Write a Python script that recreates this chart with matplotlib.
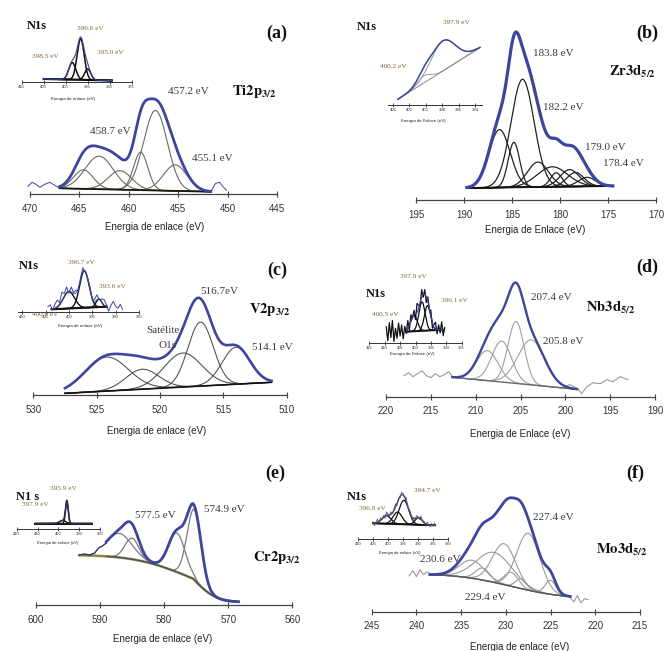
import math
import numpy as np
import matplotlib
matplotlib.use("Agg")
import matplotlib.pyplot as plt

# ---------------------------------------------------------------- data ----
# (a) Ti 2p3/2 fit components: centre (eV), height (a.u.), sigma (eV)
ti_centers = [464.6, 463.0, 460.9, 458.8, 457.3, 455.3]
ti_heights = [19, 33, 19, 38, 80, 26]
ti_sigmas = [1.0, 1.43, 1.2, 0.72, 1.2, 1.2]
ti_range = (467.0, 451.7)
ti_bg = (6.0, 2.6)
ti_ticks = [470, 465, 460, 455, 450, 445]
ti_raw_left_e = [470.2, 469.8, 469.4, 469.0, 468.5, 468.0, 467.5, 467.0]
ti_raw_left_i = [8, 12, 10, 7, 10, 12, 9, 6]
ti_raw_right_e = [451.7, 451.2, 450.8, 450.5, 450.1]
ti_raw_right_i = [3, 11, 12, 8, 4]
ti_n_centers = [398.5, 396.6, 395.0]
ti_n_heights = [17, 41, 11]
ti_n_sigmas = [0.8, 0.8, 0.7]
ti_n_range = (405.0, 389.5)
ti_n_bg = (3.0, 1.5)
ti_n_ticks = [410, 405, 400, 395, 390, 385]

# (b) Zr 3d5/2
zr_centers = [186.3, 184.8, 183.9, 182.3, 180.8, 180.4, 179.0, 178.4, 177.2]
zr_heights = [58, 45, 108, 25, 20, 14, 17, 14, 9]
zr_sigmas = [1.1, 0.6, 1.2, 1.1, 1.6, 0.6, 1.0, 0.9, 0.9]
zr_range = (189.7, 174.5)
zr_bg = (12.0, 14.0)
zr_ticks = [195, 190, 185, 180, 175, 170]
zr_n_centers = [400.2, 397.9]
zr_n_heights = [7, 30]
zr_n_sigmas = [0.8, 1.5]
zr_n_range = (403.4, 393.4)
zr_n_bg = (5.7, 57.3)
zr_n_ticks = [404, 402, 400, 398, 396, 394]

# (c) V 2p3/2
v_centers = [524.2, 521.4, 518.2, 516.8, 514.0]
v_heights = [34, 20, 34, 64, 37]
v_sigmas = [1.7, 1.3, 1.5, 1.0, 1.1]
v_range = (527.5, 511.2)
v_bg = (1.7, 12.7)
v_ticks = [530, 525, 520, 515, 510]
v_n_centers = [400.0, 396.7, 393.6]
v_n_heights = [17, 37, 8]
v_n_sigmas = [1.2, 1.0, 0.6]
v_n_range = (403.7, 391.9)
v_n_bg = (2.7, 5.3)
v_n_ticks = [410, 405, 400, 395, 390, 385]
v_n_raw_resid = [0, 2, -1, 4, 7, 2, 9, 3, 6, -2, 5, 1, 3, -3, 2, 4, -1,
                 1, 3, -2, 2, 5, -1, 3, 6, 2, -2, 4, 8, 3, 1, 5, 0]

# (d) Nb 3d5/2
nb_centers = [208.7, 207.1, 205.5, 203.8]
nb_heights = [30, 41, 62, 45]
nb_sigmas = [1.2, 1.1, 0.9, 1.5]
nb_range = (212.6, 198.7)
nb_bg = (19.4, 7.4)
nb_ticks = [220, 215, 210, 205, 200, 195, 190]
nb_raw_left_e = [218.0, 217.5, 217.0, 216.5, 216.0, 215.5, 215.0, 214.5,
                 214.0, 213.5, 213.0, 212.6]
nb_raw_left_i = [21, 24, 20, 23, 26, 21, 19, 23, 20, 22, 25, 20]
nb_raw_right_e = [200.2, 199.5, 198.6, 198.2, 197.6, 196.9, 196.1, 195.4,
                  194.7, 193.9, 193.0]
nb_raw_right_i = [10, 12, 8, 3, 10, 14, 13, 17, 15, 20, 17]
nb_n_centers = [400.5, 397.9, 396.1]
nb_n_heights = [16, 29, 25]
nb_n_sigmas = [1.1, 1.0, 1.0]
nb_n_range = (403.0, 391.0)
nb_n_bg = (11.0, 13.0)
nb_n_ticks = [415, 410, 405, 400, 395, 390, 385]
nb_n_raw_range = (409.5, 390.5)
nb_n_raw_resid = [6, -8, 10, -5, 12, -9, 4, -6, 9, -4, 7, -7, 5, -3, 8, -5,
                  6, -2, 4, -6, 9, 3, -4, 7, -3, 5, -6, 4, -2, 6, -5, 3, 7,
                  -4, 5, -3, 8, -6, 2]

# (e) Cr 2p3/2
cr_centers = [587.0, 585.0, 578.0, 575.3]
cr_heights = [24, 21, 39, 70]
cr_sigmas = [2.0, 1.1, 1.3, 1.1]
cr_range = (589.0, 568.4)
cr_bg_range = (593.2, 568.4)
cr_bg = dict(lo=3.0, hi=50.0, centre=575.5, w_lo=4.0, w_hi=10.0)
cr_ticks = [600, 590, 580, 570, 560]
cr_raw_e = [593.2, 592.4, 591.6, 590.8, 590.2, 589.6, 589.0]
cr_raw_i = [50, 51, 50, 52, 57, 59, 62]
cr_n_centers = [397.9, 395.9]
cr_n_heights = [3, 22]
cr_n_sigmas = [1.5, 0.65]
cr_n_range = (411.0, 384.0)
cr_n_bg = (5.5, 5.5)
cr_n_ticks = [420, 410, 400, 390, 380]

# (f) Mo 3d5/2
mo_centers = [233.8, 232.6, 231.3, 230.2, 229.4, 228.3, 227.5, 225.0]
mo_heights = [18, 12, 30, 41, 14, 10, 57, 14]
mo_sigmas = [1.4, 0.8, 2.0, 1.3, 0.8, 0.6, 1.3, 0.6]
mo_range = (238.5, 222.8)
mo_bg = dict(lo=13.4, hi=37.7, centre=229.5, w_lo=6.5, w_hi=6.5)
mo_ticks = [245, 240, 235, 230, 225, 220, 215]
mo_raw_left_e = [240.8, 240.4, 240.0, 239.6, 239.2, 238.8, 238.5]
mo_raw_left_i = [36, 41, 35, 42, 37, 40, 38]
mo_raw_right_e = [222.8, 222.4, 222.0, 221.6, 221.2, 220.8]
mo_raw_right_i = [14, 10, 16, 9, 13, 12]
mo_n_centers = [400.5, 396.8, 394.7, 389.8]
mo_n_heights = [8, 12, 24, 7]
mo_n_sigmas = [1.5, 1.5, 1.6, 1.2]
mo_n_range = (405.0, 384.3)
mo_n_bg = (16.0, 14.0)
mo_n_ticks = [410, 405, 400, 395, 390, 385, 380]
mo_n_raw_resid = [2, -3, 1, 4, -2, 3, -1, 2, -3, 4, 1, -2, 3, -1, 2, 4, -3,
                  1, -2, 3, 2, -1, 4, -2, 1, 3, -3, 2, -1, 3, 1, -2, 4, -1,
                  2, -3, 3, 1, -2, 2, -1, 3]

# -------------------------------------------------------------- styling ----
W, H = 668, 651
plt.rcParams["mathtext.fontset"] = "stix"
SERIF = "Liberation Serif"
SANS = "Liberation Sans"
BLUE = "#3b469c"
TXT = "#3a3a3a"
BROWN = "#7a6538"

fig = plt.figure(figsize=(W / 100, H / 100), dpi=100)
_erf = np.vectorize(math.erf)


def px_axes(x0, x1, y_axis, y_top):
    ax = fig.add_axes([x0 / W, 1 - y_axis / H, (x1 - x0) / W, (y_axis - y_top) / H])
    ax.patch.set_alpha(0)
    for s in ("left", "right", "top"):
        ax.spines[s].set_visible(False)
    ax.set_yticks([])
    ax.set_ylim(0, y_axis - y_top)
    return ax


def main_axes(x0, x1, y_axis, y_top, ticks):
    ax = px_axes(x0, x1, y_axis, y_top)
    ax.set_xlim(ticks[0], ticks[-1])
    ax.set_xticks(ticks)
    ax.set_xticklabels([str(t) for t in ticks], fontfamily=SANS, fontsize=7,
                       color="#333333")
    ax.tick_params(axis="x", direction="inout", length=5, width=0.8, pad=4.5,
                   color="#444444")
    ax.spines["bottom"].set_color("#444444")
    ax.spines["bottom"].set_linewidth(0.9)
    return ax


def inset_axes(x0, x1, y_axis, y_top, xlim, ticks):
    ax = px_axes(x0, x1, y_axis, y_top)
    ax.set_xlim(*xlim)
    ax.set_xticks(ticks)
    ax.set_xticklabels([str(t) for t in ticks], fontfamily=SANS, fontsize=3.0,
                       color="#333333")
    ax.tick_params(axis="x", direction="inout", length=2.2, width=0.6, pad=1.2,
                   color="#333333")
    ax.spines["bottom"].set_color("#333333")
    ax.spines["bottom"].set_linewidth(0.7)
    return ax


def gauss(e, c, h, s):
    return h * np.exp(-0.5 * ((e - c) / s) ** 2)


def linear_bg(e, rng, levels):
    e_hi, e_lo = rng
    i_hi, i_lo = levels
    return i_lo + (i_hi - i_lo) * (e - e_lo) / (e_hi - e_lo)


def step_bg(e, lo, hi, centre, w_lo, w_hi):
    w = np.where(e < centre, w_lo, w_hi)
    return lo + (hi - lo) * 0.5 * (1 + _erf((e - centre) / w))


def draw_fit(ax, e, bg, centers, heights, sigmas, comp_kw, env_kw, bg_kw=None):
    total = bg.copy()
    for c, h, s in zip(centers, heights, sigmas):
        g = gauss(e, c, h, s)
        ax.plot(e, bg + g, clip_on=False, **comp_kw)
        total = total + g
    if bg_kw is not None:
        ax.plot(e, bg, clip_on=False, **bg_kw)
    ax.plot(e, total, clip_on=False, **env_kw)
    return total


def text(x, y, s, size, color=TXT, family=SERIF, weight="normal", **kw):
    fig.text(x / W, 1 - y / H, s, fontsize=size, color=color, family=family,
             weight=weight, ha="center", va="center", **kw)


def peak_label(x, y, s):
    text(x, y, s, 8)


def small_label(x, y, s):
    text(x, y, s, 5.2, color=BROWN)


def axis_title(x, y, s, size=7):
    text(x, y, s, size, color="#222222", family=SANS)


# ------------------------------------------------------------- panel (a) ----
ax = main_axes(30, 277, 194.3, 60, ti_ticks)
e = np.linspace(*ti_range, 400)
bg = linear_bg(e, ti_range, ti_bg)
ax.plot(ti_raw_left_e, ti_raw_left_i, color=BLUE, lw=0.7, clip_on=False)
ax.plot(ti_raw_right_e, ti_raw_right_i, color=BLUE, lw=0.7, clip_on=False)
draw_fit(ax, e, bg, ti_centers, ti_heights, ti_sigmas,
         dict(color="#6a6a6a", lw=0.8), dict(color=BLUE, lw=2.0),
         dict(color="#1a1a10", lw=1.3))

ax = inset_axes(21.7, 131.7, 82, 30, (410, 385), ti_n_ticks)
e = np.linspace(*ti_n_range, 300)
bg = linear_bg(e, ti_n_range, ti_n_bg)
draw_fit(ax, e, bg, ti_n_centers, ti_n_heights, ti_n_sigmas,
         dict(color="#111111", lw=1.1), dict(color=BLUE, lw=0.8),
         dict(color="#111111", lw=1.5))

text(277, 33, "(a)", 13, color="#111111", weight="bold")
text(254, 92, r"$\mathbf{Ti2p}_{\mathbf{3/2}}$", 10.5, color="#111111")
peak_label(188, 91, "457.2 eV")
peak_label(110, 131, "458.7 eV")
peak_label(212, 159, "455.1 eV")
text(37, 26, "N1s", 9, color="#111111", weight="bold")
small_label(90, 28, "396.6 eV")
small_label(45, 57, "398.5 eV")
small_label(110, 52, "395.0 eV")
axis_title(73, 99, "Energia de enlace (eV)", 3.2)
axis_title(155, 227, "Energia de enlace (eV)")

# ------------------------------------------------------------- panel (b) ----
ax = main_axes(416, 656, 200, 30, zr_ticks)
e = np.linspace(*zr_range, 400)
bg = linear_bg(e, zr_range, zr_bg)
draw_fit(ax, e, bg, zr_centers, zr_heights, zr_sigmas,
         dict(color="#222222", lw=0.9), dict(color=BLUE, lw=2.3),
         dict(color="#111111", lw=1.3))

ax = inset_axes(388, 481.5, 105, 35, (404.6, 393.2), zr_n_ticks)
e = np.linspace(*zr_n_range, 300)
bg = linear_bg(e, zr_n_range, zr_n_bg)
draw_fit(ax, e, bg, zr_n_centers, zr_n_heights, zr_n_sigmas,
         dict(color="#9a9a9a", lw=0.7), dict(color=BLUE, lw=1.1),
         dict(color="#8a8a8a", lw=0.7))

text(647, 33, "(b)", 13, color="#111111", weight="bold")
text(632, 72, r"$\mathbf{Zr3d}_{\mathbf{5/2}}$", 10.5, color="#111111")
peak_label(553, 53, "183.8 eV")
peak_label(563, 107, "182.2 eV")
peak_label(605, 147, "179.0 eV")
peak_label(623, 164, "178.4 eV")
text(367, 27, "N1s", 9, color="#111111", weight="bold")
small_label(456, 23, "397.9 eV")
small_label(393, 66, "400.2 eV")
axis_title(423, 121, "Energia de Enlace (eV)", 3.2)
axis_title(535, 230, "Energia de Enlace (eV)")

# ------------------------------------------------------------- panel (c) ----
ax = main_axes(33.3, 286.7, 395, 260, v_ticks)
e = np.linspace(*v_range, 400)
bg = linear_bg(e, v_range, v_bg)
draw_fit(ax, e, bg, v_centers, v_heights, v_sigmas,
         dict(color="#555555", lw=0.8), dict(color=BLUE, lw=1.9),
         dict(color="#111111", lw=1.2))

ax = inset_axes(17.5, 139, 312, 255, (411, 385), v_n_ticks)
e = np.linspace(*v_n_range, 300)
bg = linear_bg(e, v_n_range, v_n_bg)
env = draw_fit(ax, e, bg, v_n_centers, v_n_heights, v_n_sigmas,
               dict(color="#111111", lw=1.0), dict(color=BLUE, lw=0.6),
               dict(color="#111111", lw=1.5))
e_raw = np.linspace(404.5, 388.5, len(v_n_raw_resid))
raw = np.interp(e_raw, e[::-1], env[::-1], left=v_n_bg[0], right=v_n_bg[1])
ax.plot(e_raw, raw + np.array(v_n_raw_resid), color=BLUE, lw=0.7, clip_on=False)

text(277, 270, "(c)", 13, color="#111111", weight="bold")
text(270, 310, r"$\mathbf{V2p}_{\mathbf{3/2}}$", 10.5, color="#111111")
peak_label(219, 292, "516.7eV")
peak_label(163, 331, "Satélite")
peak_label(168, 346, "O1s")
peak_label(272, 347, "514.1 eV")
text(29, 266, "N1s", 9, color="#111111", weight="bold")
small_label(81, 263, "396.7 eV")
small_label(112, 286, "393.6 eV")
small_label(45, 314, "400.0 eV")
axis_title(80, 326, "Energia de enlace (eV)", 3.2)
axis_title(157, 431, "Energia de enlace (eV)")

# ------------------------------------------------------------- panel (d) ----
ax = main_axes(386, 655, 396.7, 260, nb_ticks)
ax.plot(nb_raw_left_e, nb_raw_left_i, color="#9a9a9a", lw=0.8, clip_on=False)
ax.plot(nb_raw_right_e, nb_raw_right_i, color="#9a9a9a", lw=0.8, clip_on=False)
e = np.linspace(*nb_range, 400)
bg = linear_bg(e, nb_range, nb_bg)
draw_fit(ax, e, bg, nb_centers, nb_heights, nb_sigmas,
         dict(color="#a0a0a0", lw=0.8), dict(color=BLUE, lw=1.7),
         dict(color="#6a6a6a", lw=1.0))

ax = inset_axes(369.3, 461.7, 342.7, 275, (415, 385), nb_n_ticks)
e = np.linspace(*nb_n_range, 300)
bg = linear_bg(e, nb_n_range, nb_n_bg)
e_raw = np.linspace(*nb_n_raw_range, len(nb_n_raw_resid))
model_raw = linear_bg(e_raw, nb_n_range, nb_n_bg)
for c, h, s in zip(nb_n_centers, nb_n_heights, nb_n_sigmas):
    model_raw = model_raw + gauss(e_raw, c, h, s)
ax.plot(e_raw, model_raw + np.array(nb_n_raw_resid), color="#111111", lw=0.9,
        clip_on=False)
draw_fit(ax, e, bg, nb_n_centers, nb_n_heights, nb_n_sigmas,
         dict(color="#111111", lw=0.9), dict(color=BLUE, lw=0.9),
         dict(color="#111111", lw=1.4))

text(647, 267, "(d)", 13, color="#111111", weight="bold")
text(611, 308, r"$\mathbf{Nb3d}_{\mathbf{5/2}}$", 10.5, color="#111111")
peak_label(551, 298, "207.4 eV")
peak_label(563, 341, "205.8 eV")
text(376, 294, "N1s", 9, color="#111111", weight="bold")
small_label(413, 277, "397.9 eV")
small_label(454, 301, "396.1 eV")
small_label(385, 314, "400.5 eV")
axis_title(412, 354, "Energia de Enlace (eV)", 3.2)
axis_title(520, 434, "Energia de Enlace (eV)")

# ------------------------------------------------------------- panel (e) ----
ax = main_axes(35.7, 292.3, 605, 480, cr_ticks)
e_bg = np.linspace(*cr_bg_range, 400)
ax.plot(e_bg, step_bg(e_bg, **cr_bg), color="#8c8a3c", lw=1.8, clip_on=False)
ax.plot(cr_raw_e, cr_raw_i, color="#2a2f55", lw=1.0, clip_on=False)
e = np.linspace(*cr_range, 400)
bg = step_bg(e, **cr_bg)
draw_fit(ax, e, bg, cr_centers, cr_heights, cr_sigmas,
         dict(color="#7a7a7a", lw=0.9), dict(color=BLUE, lw=2.0),
         dict(color="#444444", lw=0.6))

ax = inset_axes(16.7, 100, 529, 485, (420, 380), cr_n_ticks)
e = np.linspace(*cr_n_range, 300)
bg = linear_bg(e, cr_n_range, cr_n_bg)
draw_fit(ax, e, bg, cr_n_centers, cr_n_heights, cr_n_sigmas,
         dict(color="#111111", lw=1.0), dict(color="#2a2f55", lw=1.1),
         dict(color="#111111", lw=1.4))

text(275, 473, "(e)", 13, color="#111111", weight="bold")
text(277, 557, r"$\mathbf{Cr2p}_{\mathbf{3/2}}$", 10.5, color="#111111")
peak_label(155, 516, "577.5 eV")
peak_label(224, 509, "574.9 eV")
text(28, 497, "N1 s", 9, color="#111111", weight="bold")
small_label(63, 488, "395.9 eV")
small_label(35, 505, "397.9 eV")
axis_title(58, 543, "Energia de enlace (eV)", 3.0)
axis_title(163, 639, "Energia de enlace (eV)")

# ------------------------------------------------------------- panel (f) ----
ax = main_axes(371.7, 640, 611.7, 480, mo_ticks)
ax.plot(mo_raw_left_e, mo_raw_left_i, color="#9a9a9a", lw=0.8, clip_on=False)
ax.plot(mo_raw_right_e, mo_raw_right_i, color="#9a9a9a", lw=0.8, clip_on=False)
e = np.linspace(*mo_range, 400)
bg = step_bg(e, **mo_bg)
draw_fit(ax, e, bg, mo_centers, mo_heights, mo_sigmas,
         dict(color="#9a9a9a", lw=0.8), dict(color=BLUE, lw=2.0),
         dict(color="#555555", lw=1.0))

ax = inset_axes(358, 448, 539.3, 490, (410, 380), mo_n_ticks)
e = np.linspace(*mo_n_range, 300)
bg = linear_bg(e, mo_n_range, mo_n_bg)
env = draw_fit(ax, e, bg, mo_n_centers, mo_n_heights, mo_n_sigmas,
               dict(color="#111111", lw=0.9), dict(color=BLUE, lw=1.0),
               dict(color="#111111", lw=1.4))
e_raw = np.linspace(405.0, 384.5, len(mo_n_raw_resid))
raw = np.interp(e_raw, e[::-1], env[::-1])
ax.plot(e_raw, raw + np.array(mo_n_raw_resid) * 0.8, color="#555555", lw=0.6,
        clip_on=False)

text(635, 473, "(f)", 13, color="#111111", weight="bold")
text(622, 550, r"$\mathbf{Mo3d}_{\mathbf{5/2}}$", 10.5, color="#111111")
peak_label(553, 517, "227.4 eV")
peak_label(440, 559, "230.6 eV")
peak_label(485, 597, "229.4 eV")
text(357, 497, "N1s", 9, color="#111111", weight="bold")
small_label(427, 491, "394.7 eV")
small_label(372, 508, "396.8 eV")
axis_title(400, 553, "Energia de enlace (eV)", 3.0)
axis_title(520, 647, "Energia de enlace (eV)")

fig.savefig("out.png", dpi=100)
